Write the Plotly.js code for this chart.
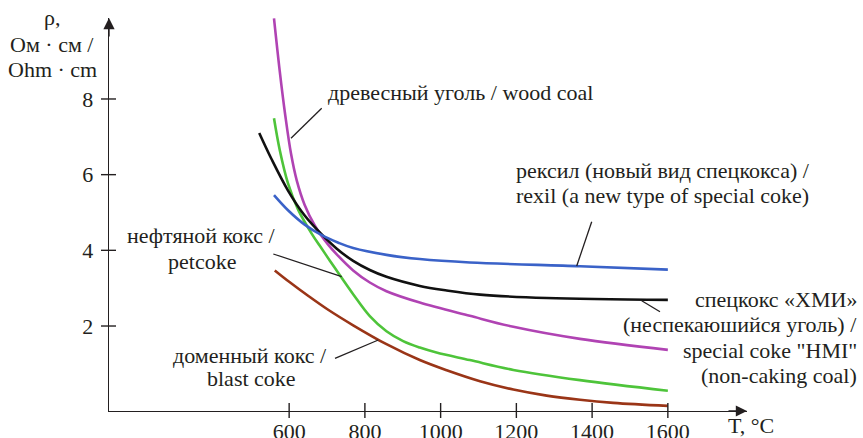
<!DOCTYPE html>
<html><head><meta charset="utf-8">
<script src="https://cdn.plot.ly/plotly-3.0.1.min.js"></script>
<style>
html,body{margin:0;padding:0;background:#fff}
#c{width:863px;height:438px}
#c svg text{font-family:'Liberation Serif','DejaVu Serif',serif !important;}
</style>
</head><body><div id="c"></div>
<script>
// Data (T in °C, resistivity in Ohm·cm)
const rexilT = [560, 597, 641, 686, 730, 769, 857, 945, 1077, 1368, 1600];
const rexilR = [5.46, 5.06, 4.68, 4.40, 4.20, 4.06, 3.88, 3.77, 3.68, 3.58, 3.49];
const hmiT = [521, 553, 597, 641, 686, 725, 769, 813, 857, 945, 1016, 1104, 1280, 1600];
const hmiR = [7.10, 6.42, 5.58, 4.92, 4.42, 4.05, 3.72, 3.48, 3.30, 3.06, 2.94, 2.83, 2.74, 2.69];
const woodT = [560, 575, 590, 605, 620, 641, 668, 703, 725, 769, 813, 857, 945, 1077, 1192, 1368, 1600];
const woodR = [10.13, 8.75, 7.55, 6.55, 5.85, 5.20, 4.65, 4.15, 3.90, 3.47, 3.15, 2.92, 2.62, 2.27, 1.98, 1.66, 1.37];
const petT = [560, 575, 597, 624, 659, 681, 708, 734, 769, 813, 857, 901, 945, 989, 1077, 1192, 1368, 1600];
const petR = [7.49, 6.66, 5.77, 5.07, 4.45, 4.12, 3.72, 3.34, 2.84, 2.26, 1.86, 1.60, 1.43, 1.30, 1.10, 0.84, 0.57, 0.29];
const blastT = [562, 600, 650, 700, 769, 857, 945, 1016, 1104, 1192, 1280, 1368, 1456, 1600];
const blastR = [3.47, 3.17, 2.80, 2.45, 2.02, 1.52, 1.10, 0.83, 0.54, 0.32, 0.16, 0.05, -0.03, -0.11];

const xTicks = [600, 800, 1000, 1200, 1400, 1600];
const yTicks = [2, 4, 6, 8];

const FONT = "'Liberation Serif'";
const TXT = '#231f20';

// warm up the system fonts
const warm = document.createElement('canvas').getContext('2d');
["'Liberation Serif', monospace", "'DejaVu Serif', monospace"].forEach(f => {
  warm.font = '22px ' + f; warm.measureText('Ohm wood coal 1600 рексил ρ °C');
});

// plot area in pixels
const L = 109, R = 747, T = 18, B = 411;
function px(x) { return (x - L) / (R - L); }
function py(y) { return (B - y) / (B - T); }

function tr(x, y, c) {
  return {x: x, y: y, type: 'scatter', mode: 'lines',
    line: {color: c, width: 2.6, shape: 'spline', smoothing: 1}, hoverinfo: 'skip'};
}
const data = [
  tr(blastT, blastR, '#9a3517'),
  tr(petT, petR, '#4ec43a'),
  tr(woodT, woodR, '#b043b3'),
  tr(hmiT, hmiR, '#111111'),
  tr(rexilT, rexilR, '#3a62c8')
];

const shapes = [];
xTicks.forEach(v => shapes.push({type: 'line', xref: 'x', yref: 'paper', ysizemode: 'pixel', yanchor: 0,
  x0: v, x1: v, y0: -7, y1: 8, line: {color: TXT, width: 1.4}}));
yTicks.forEach(v => shapes.push({type: 'line', yref: 'y', xref: 'paper', xsizemode: 'pixel', xanchor: 0,
  y0: v, y1: v, x0: -8, x1: 7, line: {color: TXT, width: 1.4}}));
function lead(x0, y0, x1, y1) {
  shapes.push({type: 'line', xref: 'paper', yref: 'paper', x0: px(x0), y0: py(y0), x1: px(x1), y1: py(y1),
    line: {color: TXT, width: 1.3}});
}
lead(291, 138.3, 321.7, 108.3);
lead(273.3, 254, 341.7, 276.7);
lead(576.7, 266, 591.7, 221.7);
lead(641.7, 300.7, 660, 311.7);
lead(335, 358.3, 378.3, 340);

const ann = [];
function lab(text, x, y, xa) {
  ann.push({text: text, xref: 'paper', yref: 'paper', x: px(x), y: py(y), xanchor: xa, yanchor: 'middle',
    showarrow: false, font: {family: FONT, size: 22}});
}
lab('древесный уголь / wood coal', 326, 92, 'left');
lab('нефтяной кокс /', 201, 236, 'center');
lab('petcoke', 202, 261, 'center');
lab('рексил (новый вид спецкокса) /', 514, 170, 'left');
lab('rexil (a new type of special coke)', 514, 195, 'left');
lab('спецкокс «ХМИ»', 859, 299, 'right');
lab('(неспекаюшийся уголь) /', 859, 324, 'right');
lab('special coke "HMI"', 859, 350, 'right');
lab('(non-caking coal)', 859, 375, 'right');
lab('доменный кокс /', 250, 355, 'center');
lab('blast coke', 251, 378, 'center');
lab('ρ,', 52, 17, 'center');
lab('Ом · см /', 52, 44, 'center');
lab('Ohm · cm', 52, 69, 'center');
lab('T, °C', 726, 425, 'left');

// axis arrows
ann.push({text: '', xref: 'paper', yref: 'paper', x: 0, y: 1, ax: 0, ay: 20, axref: 'pixel', ayref: 'pixel',
  showarrow: true, arrowhead: 2, arrowsize: 1.6, arrowwidth: 1.4, arrowcolor: TXT});
ann.push({text: '', xref: 'paper', yref: 'paper', x: 1, y: 0, ax: -20, ay: 0, axref: 'pixel', ayref: 'pixel',
  showarrow: true, arrowhead: 2, arrowsize: 1.6, arrowwidth: 1.4, arrowcolor: TXT});

const layout = {
  width: 863, height: 438,
  font: {color: TXT},
  margin: {l: L, r: 863 - R, t: T, b: 438 - B, pad: 0},
  paper_bgcolor: '#fff', plot_bgcolor: '#fff',
  showlegend: false,
  xaxis: {range: [124.3, 1809], showgrid: false, zeroline: false, showline: true, linecolor: TXT, linewidth: 1.4,
    tickvals: xTicks, ticktext: xTicks.map(String), ticks: '',
    tickfont: {family: FONT, size: 22}},
  yaxis: {range: [-0.246, 10.14], showgrid: false, zeroline: false, showline: true, linecolor: TXT, linewidth: 1.4,
    tickvals: yTicks, ticktext: yTicks.map(String), ticks: '', ticklabelstandoff: 10,
    tickfont: {family: FONT, size: 22}},
  shapes: shapes,
  annotations: ann
};
const config = {displayModeBar: false, staticPlot: true};
Plotly.newPlot('c', data, layout, config);
// redraw once the font is certainly available
if (document.fonts && document.fonts.load) {
  document.fonts.load("22px 'Liberation Serif'").then(() => Plotly.newPlot('c', data, layout, config));
}
</script>
</body></html>
